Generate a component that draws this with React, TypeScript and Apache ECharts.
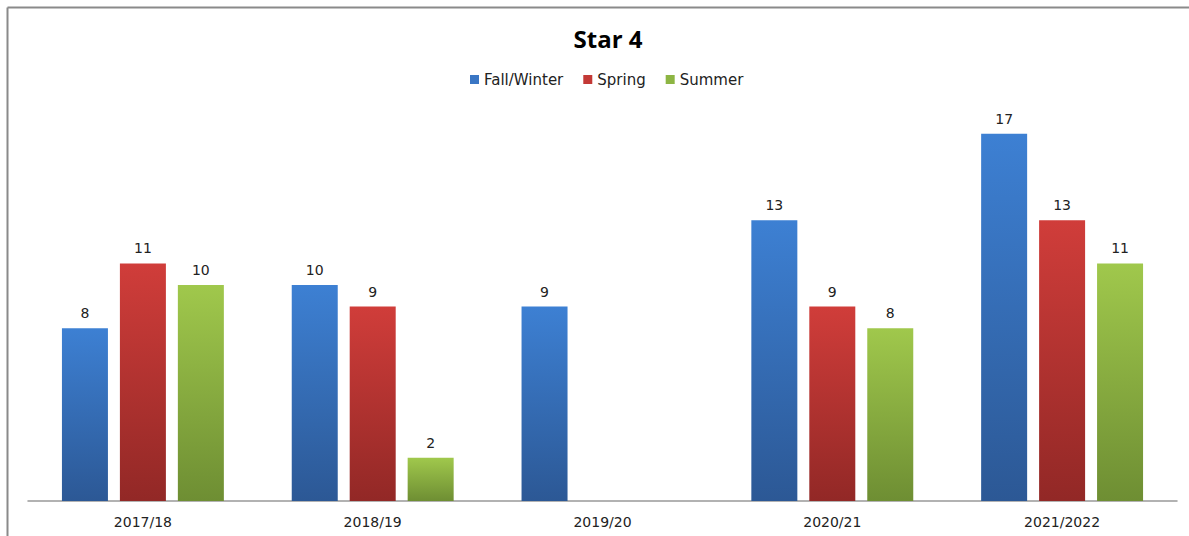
import React, { useEffect, useRef } from "react";
import * as echarts from "echarts";

const categories = ["2017/18", "2018/19", "2019/20", "2020/21", "2021/2022"];
const fallWinter = [8, 10, 9, 13, 17];
const spring = [11, 9, null, 9, 13];
const summer = [10, 2, null, 8, 11];

const grad = (top: string, bottom: string) =>
  new echarts.graphic.LinearGradient(0, 0, 0, 1, [
    { offset: 0, color: top },
    { offset: 1, color: bottom },
  ]);

const labelFont = "DejaVu Sans, Verdana, sans-serif";

export default function App() {
  const ref = useRef<HTMLDivElement>(null);
  useEffect(() => {
    const chart = echarts.init(ref.current!, null, { renderer: "svg" });
    const mk = (name: string, data: (number | null)[], top: string, bottom: string) => ({
      name,
      type: "bar",
      data,
      barWidth: 46,
      barGap: "26%",
      itemStyle: { color: grad(top, bottom) },
      label: {
        show: true,
        position: "top",
        distance: 8,
        color: "#222",
        fontSize: 14,
        fontFamily: labelFont,
      },
      emphasis: { disabled: true },
    });
    chart.setOption({
      animation: false,
      backgroundColor: "#fff",
      title: {
        text: "Star 4",
        left: 603,
        textAlign: "center",
        top: 21,
        textStyle: { fontSize: 24, fontWeight: "bold", color: "#000", fontFamily: "Open Sans, sans-serif" },
      },
      legend: {
        top: 67,
        left: 465,
        itemWidth: 9,
        itemHeight: 9,
        itemGap: 20,
        icon: "rect",
        textStyle: { fontSize: 15, color: "#222", fontFamily: labelFont },
        data: [
          { name: "Fall/Winter", itemStyle: { color: "#3a76c4" } },
          { name: "Spring", itemStyle: { color: "#c33936" } },
          { name: "Summer", itemStyle: { color: "#8db543" } },
        ],
      },
      grid: { left: 28, right: 12, top: 69, bottom: 35 },
      xAxis: {
        type: "category",
        data: categories,
        axisLine: { lineStyle: { color: "#999", width: 1.5 } },
        axisTick: { show: false },
        axisLabel: { color: "#222", fontSize: 14, fontFamily: labelFont, margin: 14 },
      },
      yAxis: {
        type: "value",
        min: 0,
        max: 20,
        show: false,
        splitLine: { show: false },
      },
      graphic: [
        { type: "line", shape: { x1: 7.5, y1: 7.5, x2: 1189, y2: 7.5 }, style: { stroke: "#8a8a8a", lineWidth: 2 } },
        { type: "line", shape: { x1: 7.5, y1: 7.5, x2: 7.5, y2: 536 }, style: { stroke: "#8a8a8a", lineWidth: 2 } },
      ],
      series: [
        mk("Fall/Winter", fallWinter, "#3d80d3", "#2c5895"),
        mk("Spring", spring, "#d03d3a", "#922826"),
        mk("Summer", summer, "#a0c84c", "#6e8e33"),
      ],
    });
    return () => chart.dispose();
  }, []);
  return (
    <div
      ref={ref}
      style={{ position: "absolute", left: 0, top: 0, width: 1189, height: 536 }}
    />
  );
}
